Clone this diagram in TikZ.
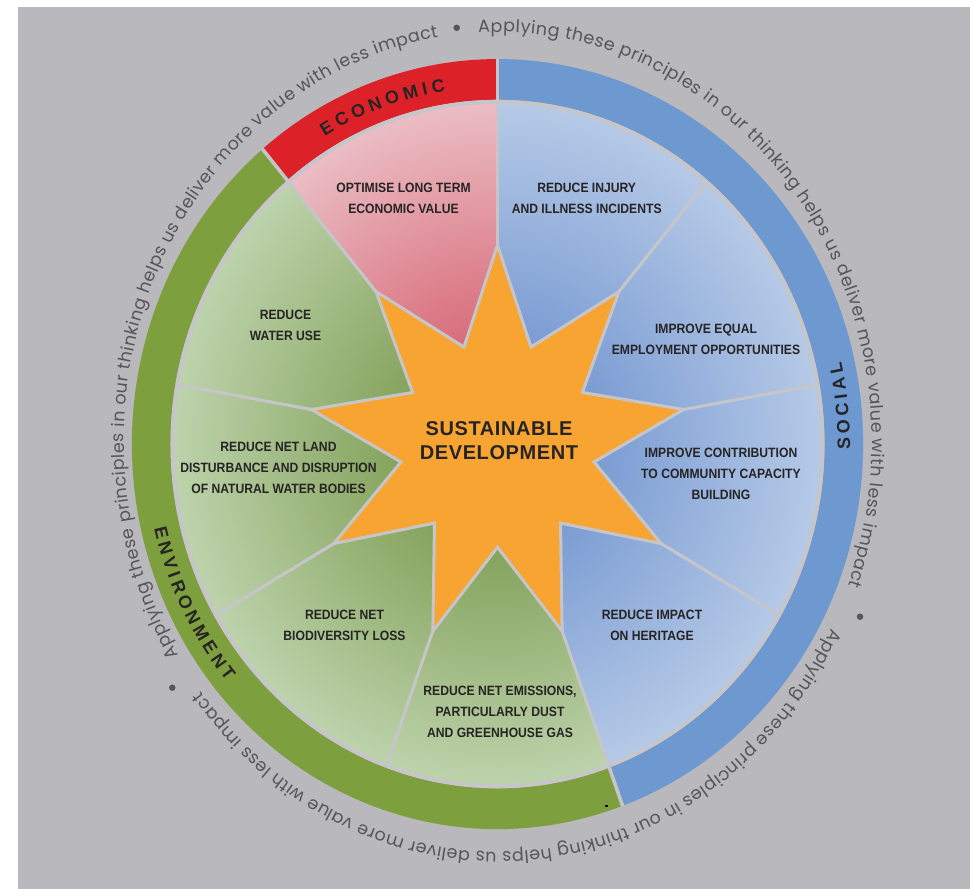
\documentclass[tikz,border=0pt]{standalone}
\usepackage{fontspec}
\usetikzlibrary{decorations.text}
\setmainfont{Liberation Sans}
\newfontfamily\lblfont{Liberation Sans}[FakeStretch=0.9]
\newfontfamily\ctrfont{Liberation Sans}[LetterSpace=3]
\newfontfamily\outfont{Poppins}
\newfontfamily\ringfont{Liberation Sans}

\definecolor{bg}{HTML}{B9B8BD}
\definecolor{sep}{HTML}{C6C6CA}
\definecolor{ringred}{HTML}{DC2228}
\definecolor{ringblue}{HTML}{6D98D0}
\definecolor{ringgreen}{HTML}{7E9F3E}
\definecolor{pinkL}{HTML}{EBBDC4}
\definecolor{pinkD}{HTML}{D86E7B}
\definecolor{blueL}{HTML}{B6CAE7}
\definecolor{blueD}{HTML}{7C9DD3}
\definecolor{greenL}{HTML}{BDD3AC}
\definecolor{greenD}{HTML}{86A45E}
\definecolor{starc}{HTML}{F7A433}
\definecolor{txt}{HTML}{262424}
\definecolor{outtxt}{HTML}{55555A}

\pgfdeclareradialshading{pinkshade}{\pgfpointorigin}{color(0bp)=(pinkD); color(8bp)=(pinkD); color(25bp)=(pinkL); color(50bp)=(pinkL)}
\pgfdeclareradialshading{blueshade}{\pgfpointorigin}{color(0bp)=(blueD); color(8bp)=(blueD); color(25bp)=(blueL); color(50bp)=(blueL)}
\pgfdeclareradialshading{greenshade}{\pgfpointorigin}{color(0bp)=(greenD); color(8bp)=(greenD); color(25bp)=(greenL); color(50bp)=(greenL)}

\newcommand\mywedge[3]{%
  \begin{scope}
    \clip (0,0) -- (#1:325) arc[start angle=#1, end angle=#2, radius=325] -- cycle;
    \shade[shading=#3] (0,0) circle (325);
  \end{scope}}

\tikzset{
  sepline/.style={draw=sep, line width=3pt},
  lbl/.style={font=\lblfont\bfseries\fontsize{13.5}{21}\selectfont, text=txt, align=center, inner sep=0pt},
  ctr/.style={font=\ctrfont\bfseries\fontsize{20}{24}\selectfont, text=txt, align=center, inner sep=0pt},
  ringlbl/.style={decorate, decoration={text along path, text align={fit to path}, text color=txt}},
  outlbl/.style={decorate, decoration={text along path, text align={fit to path}, text color=outtxt}},
  dot/.style={circle, fill=outtxt, inner sep=0pt, minimum size=6.5pt},
}

\begin{document}
\begin{tikzpicture}[x=1pt, y=1.053pt]
\useasboundingbox (-497.5,-422.6) rectangle (475.5,421.7);
\fill[bg] (-479.5,415) rectangle (472.5,-422.6);

% ring
\fill[ringred] (90:327) arc[start angle=90, end angle=130, radius=327] -- (130:365.6) arc[start angle=130, end angle=90, radius=365.6] -- cycle;
\fill[ringgreen] (130:327) arc[start angle=130, end angle=290, radius=327] -- (290:365.6) arc[start angle=290, end angle=130, radius=365.6] -- cycle;
\fill[ringblue] (-70:327) arc[start angle=-70, end angle=90, radius=327] -- (90:365.6) arc[start angle=90, end angle=-70, radius=365.6] -- cycle;
\foreach \a in {90,130,290} \draw[sep, line width=3.5pt] (\a:324) -- (\a:366);

% wedges
\mywedge{90}{130}{pinkshade}
\mywedge{-70}{90}{blueshade}
\mywedge{130}{290}{greenshade}
\draw[sep, line width=4pt] (0,0) circle (325);
\foreach \a in {90,130,...,410} \draw[sepline] (0,0) -- (\a:325);

% star
\filldraw[fill=starc, draw=sep, line width=3pt]
  (90:189) -- (110:98) -- (130:189) -- (150:98) -- (170:189) -- (190:98)
  -- (210:189) -- (230:98) -- (250:189) -- (270:98) -- (290:189) -- (310:98)
  -- (330:189) -- (350:98) -- (10:189) -- (30:98) -- (50:189) -- (70:98) -- cycle;

% labels
\node[ctr] (sd) at (1.5,2.8) {SUSTAINABLE\\DEVELOPMENT};
\node[lbl] (econ) at (-94,233.8) {OPTIMISE LONG TERM\\ECONOMIC VALUE};
\node[lbl] (injury) at (89.2,233.8) {REDUCE INJURY\\AND ILLNESS INCIDENTS};
\node[lbl] (employ) at (208.5,99.7) {IMPROVE EQUAL\\EMPLOYMENT OPPORTUNITIES};
\node[lbl] (commun) at (223.5,-28) {IMPROVE CONTRIBUTION\\TO COMMUNITY CAPACITY\\BUILDING};
\node[lbl] (herit) at (154.5,-172.4) {REDUCE IMPACT\\ON HERITAGE};
\node[lbl] (emiss) at (2.5,-254.5) {REDUCE NET EMISSIONS,\\PARTICULARLY DUST\\AND GREENHOUSE GAS};
\node[lbl] (biodiv) at (-153,-172.4) {REDUCE NET\\BIODIVERSITY LOSS};
\node[lbl] (land) at (-219,-22.8) {REDUCE NET LAND\\DISTURBANCE AND DISRUPTION\\OF NATURAL WATER BODIES};
\node[lbl] (water) at (-212,112.5) {REDUCE\\WATER USE};

% ring labels
\path[ringlbl, decoration={text={|\ringfont\bfseries\fontsize{18}{18}\selectfont|ECONOMIC}}]
  (120.6:339.5) arc[start angle=120.6, end angle=98.8, radius=339.5];
\path[ringlbl, decoration={text={|\ringfont\bfseries\fontsize{18}{18}\selectfont|SOCIAL}}]
  (-0.8:352.5) arc[start angle=-0.8, end angle=12.8, radius=352.5];
\path[ringlbl, decoration={text={|\ringfont\bfseries\fontsize{18}{18}\selectfont|ENVIRONMENT}}]
  (193.1:352.5) arc[start angle=193.1, end angle=219.8, radius=352.5];

% outer text
\begin{scope}[shift={(0.5,1.9)}]
\path[outlbl, decoration={text={|\outfont\fontsize{17.5}{17.5}\selectfont|Applying these principles in our thinking helps us deliver more value with less impact}}]
  (93:374 and 389.4) arc[start angle=93, end angle=-20.5, x radius=374, y radius=389.4];
\path[outlbl, decoration={text={|\outfont\fontsize{17.5}{17.5}\selectfont|Applying these principles in our thinking helps us deliver more value with less impact}}]
  (-27:374 and 389.4) arc[start angle=-27, end angle=-142.5, x radius=374, y radius=389.4];
\path[outlbl, decoration={text={|\outfont\fontsize{17.5}{17.5}\selectfont|Applying these principles in our thinking helps us deliver more value with less impact}}]
  (211.3:374 and 389.4) arc[start angle=211.3, end angle=99.2, x radius=374, y radius=389.4];
\end{scope}
\node[dot] (d1) at (-40.8,395.3) {};
\node[dot] (d2) at (362.5,-164) {};
\node[dot] (d3) at (-325.2,-231.4) {};

\fill[black] (107,-343) rectangle (110,-344.4);
\end{tikzpicture}
\end{document}
